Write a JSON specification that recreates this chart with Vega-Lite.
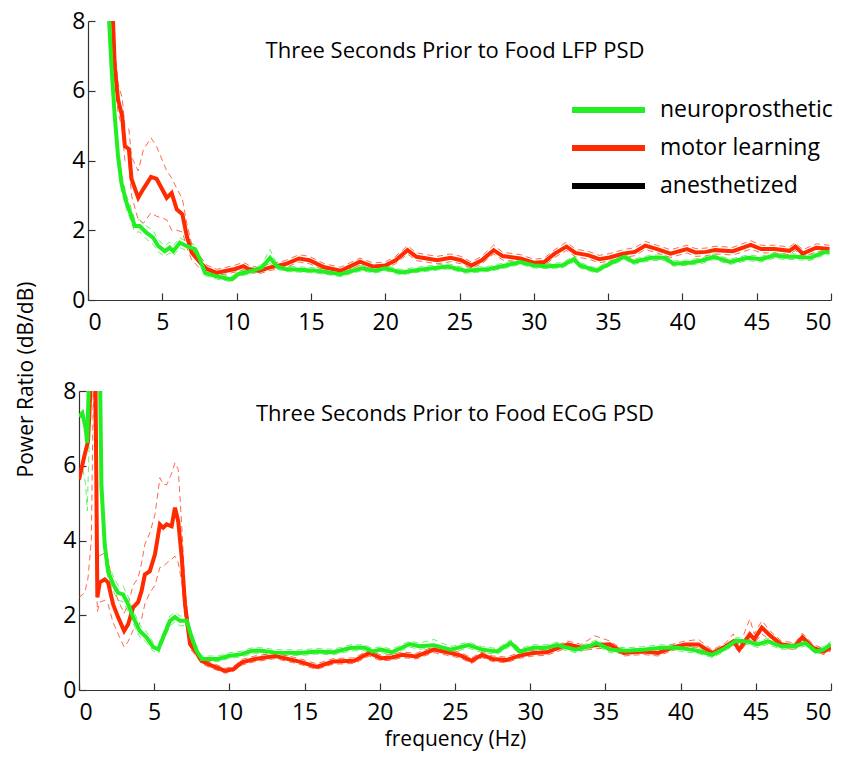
{
"$schema": "https://vega.github.io/schema/vega-lite/v6.json",
"background": "white",
"padding": {"left": 15, "top": 10, "right": 6, "bottom": 5},
"title": {"text": "Power Ratio (dB/dB)", "orient": "left", "anchor": "middle", "fontSize": 21, "fontWeight": "normal", "font": "Open Sans", "color": "black", "offset": 26},
"config": {
  "view": {"stroke": null},
  "font": "Open Sans",
  "axis": {"grid": false, "domainColor": "#333333", "domainWidth": 1.2, "tickColor": "#333333", "tickWidth": 1.2, "tickSize": -7, "labelFontSize": 23, "labelFont": "Open Sans", "labelColor": "black", "titleFontSize": 21, "titleFont": "Open Sans", "titleFontWeight": "normal", "titleColor": "black"}
},
"resolve": {"scale": {"stroke": "independent"}},
"spacing": 46,
"datasets": {
"lfp": [
{"s":"motor learning","f":1.55,"m":9.5,"lo":9.0,"hi":10.0},
{"s":"motor learning","f":1.8,"m":6.7,"lo":6.3,"hi":7.2},
{"s":"motor learning","f":2.02,"m":5.75,"lo":5.4,"hi":6.2},
{"s":"motor learning","f":2.3,"m":5.27,"lo":4.9,"hi":5.8},
{"s":"motor learning","f":2.48,"m":4.41,"lo":4.0,"hi":5.0},
{"s":"motor learning","f":2.75,"m":4.33,"lo":3.9,"hi":4.9},
{"s":"motor learning","f":2.93,"m":3.47,"lo":3.0,"hi":4.1},
{"s":"motor learning","f":3.38,"m":2.93,"lo":2.3,"hi":3.7},
{"s":"motor learning","f":3.72,"m":3.18,"lo":2.2,"hi":4.3},
{"s":"motor learning","f":4.24,"m":3.53,"lo":2.5,"hi":4.65},
{"s":"motor learning","f":4.62,"m":3.47,"lo":2.4,"hi":4.4},
{"s":"motor learning","f":5.3,"m":2.93,"lo":2.3,"hi":3.7},
{"s":"motor learning","f":5.63,"m":3.07,"lo":2.0,"hi":3.5},
{"s":"motor learning","f":5.97,"m":2.6,"lo":2.0,"hi":3.2},
{"s":"motor learning","f":6.35,"m":2.46,"lo":1.95,"hi":2.9},
{"s":"motor learning","f":6.65,"m":1.83,"lo":1.5,"hi":2.2},
{"s":"motor learning","f":6.98,"m":1.36,"lo":1.15,"hi":1.6},
{"s":"motor learning","f":7.55,"m":1.07,"lo":0.9,"hi":1.25},
{"s":"motor learning","f":8.0,"m":0.89,"lo":0.8,"hi":1.0},
{"s":"motor learning","f":8.67,"m":0.78,"lo":0.7,"hi":0.88},
{"s":"motor learning","f":9.23,"m":0.83,"lo":0.74,"hi":0.93},
{"s":"motor learning","f":9.9,"m":0.89,"lo":0.8,"hi":1.0},
{"s":"motor learning","f":10.46,"m":0.97,"lo":0.87,"hi":1.08},
{"s":"motor learning","f":10.8,"m":0.89,"lo":0.8,"hi":1.0},
{"s":"motor learning","f":11.5,"m":0.83,"lo":0.75,"hi":0.93},
{"s":"motor learning","f":12.2,"m":0.93,"lo":0.84,"hi":1.03},
{"s":"motor learning","f":13.3,"m":1.03,"lo":0.93,"hi":1.13},
{"s":"motor learning","f":14.2,"m":1.19,"lo":1.09,"hi":1.3},
{"s":"motor learning","f":14.9,"m":1.14,"lo":1.04,"hi":1.25},
{"s":"motor learning","f":15.9,"m":0.94,"lo":0.85,"hi":1.04},
{"s":"motor learning","f":17.0,"m":0.84,"lo":0.75,"hi":0.94},
{"s":"motor learning","f":18.3,"m":1.1,"lo":1.0,"hi":1.2},
{"s":"motor learning","f":19.2,"m":0.96,"lo":0.87,"hi":1.06},
{"s":"motor learning","f":20.0,"m":0.99,"lo":0.9,"hi":1.09},
{"s":"motor learning","f":20.7,"m":1.14,"lo":1.04,"hi":1.25},
{"s":"motor learning","f":21.5,"m":1.43,"lo":1.32,"hi":1.56},
{"s":"motor learning","f":22.1,"m":1.24,"lo":1.13,"hi":1.35},
{"s":"motor learning","f":23.5,"m":1.14,"lo":1.04,"hi":1.25},
{"s":"motor learning","f":24.4,"m":1.21,"lo":1.1,"hi":1.32},
{"s":"motor learning","f":25.1,"m":1.14,"lo":1.04,"hi":1.25},
{"s":"motor learning","f":25.8,"m":0.99,"lo":0.9,"hi":1.09},
{"s":"motor learning","f":26.5,"m":1.14,"lo":1.04,"hi":1.25},
{"s":"motor learning","f":27.3,"m":1.43,"lo":1.32,"hi":1.58},
{"s":"motor learning","f":27.9,"m":1.26,"lo":1.15,"hi":1.37},
{"s":"motor learning","f":29.1,"m":1.19,"lo":1.09,"hi":1.3},
{"s":"motor learning","f":30.0,"m":1.07,"lo":0.97,"hi":1.17},
{"s":"motor learning","f":30.7,"m":1.09,"lo":0.99,"hi":1.2},
{"s":"motor learning","f":31.4,"m":1.33,"lo":1.22,"hi":1.44},
{"s":"motor learning","f":32.2,"m":1.53,"lo":1.42,"hi":1.66},
{"s":"motor learning","f":32.8,"m":1.35,"lo":1.24,"hi":1.46},
{"s":"motor learning","f":33.7,"m":1.28,"lo":1.17,"hi":1.39},
{"s":"motor learning","f":34.4,"m":1.17,"lo":1.07,"hi":1.28},
{"s":"motor learning","f":35.1,"m":1.22,"lo":1.11,"hi":1.33},
{"s":"motor learning","f":36.0,"m":1.33,"lo":1.22,"hi":1.44},
{"s":"motor learning","f":36.8,"m":1.38,"lo":1.27,"hi":1.5},
{"s":"motor learning","f":37.5,"m":1.56,"lo":1.45,"hi":1.68},
{"s":"motor learning","f":38.3,"m":1.46,"lo":1.35,"hi":1.57},
{"s":"motor learning","f":39.2,"m":1.33,"lo":1.22,"hi":1.44},
{"s":"motor learning","f":40.3,"m":1.46,"lo":1.35,"hi":1.57},
{"s":"motor learning","f":40.9,"m":1.36,"lo":1.25,"hi":1.47},
{"s":"motor learning","f":41.6,"m":1.38,"lo":1.27,"hi":1.49},
{"s":"motor learning","f":42.2,"m":1.43,"lo":1.32,"hi":1.54},
{"s":"motor learning","f":43.4,"m":1.4,"lo":1.29,"hi":1.51},
{"s":"motor learning","f":44.6,"m":1.58,"lo":1.46,"hi":1.7},
{"s":"motor learning","f":45.3,"m":1.46,"lo":1.35,"hi":1.57},
{"s":"motor learning","f":46.2,"m":1.46,"lo":1.35,"hi":1.57},
{"s":"motor learning","f":47.2,"m":1.41,"lo":1.3,"hi":1.52},
{"s":"motor learning","f":47.6,"m":1.53,"lo":1.42,"hi":1.64},
{"s":"motor learning","f":48.1,"m":1.33,"lo":1.22,"hi":1.44},
{"s":"motor learning","f":49.0,"m":1.5,"lo":1.39,"hi":1.61},
{"s":"motor learning","f":49.9,"m":1.46,"lo":1.35,"hi":1.57},
{"s":"neuroprosthetic","f":1.3,"m":9.0,"lo":8.7,"hi":9.3},
{"s":"neuroprosthetic","f":1.58,"m":6.7,"lo":6.4,"hi":7.0},
{"s":"neuroprosthetic","f":1.8,"m":5.27,"lo":5.0,"hi":5.55},
{"s":"neuroprosthetic","f":2.02,"m":4.13,"lo":3.9,"hi":4.4},
{"s":"neuroprosthetic","f":2.25,"m":3.36,"lo":3.15,"hi":3.6},
{"s":"neuroprosthetic","f":2.59,"m":2.79,"lo":2.6,"hi":3.0},
{"s":"neuroprosthetic","f":2.92,"m":2.41,"lo":2.22,"hi":2.62},
{"s":"neuroprosthetic","f":3.15,"m":2.12,"lo":1.95,"hi":2.3},
{"s":"neuroprosthetic","f":3.48,"m":2.12,"lo":1.95,"hi":2.3},
{"s":"neuroprosthetic","f":3.93,"m":1.93,"lo":1.75,"hi":2.12},
{"s":"neuroprosthetic","f":4.38,"m":1.79,"lo":1.6,"hi":2.0},
{"s":"neuroprosthetic","f":4.72,"m":1.55,"lo":1.38,"hi":1.72},
{"s":"neuroprosthetic","f":5.17,"m":1.4,"lo":1.25,"hi":1.56},
{"s":"neuroprosthetic","f":5.5,"m":1.5,"lo":1.35,"hi":1.66},
{"s":"neuroprosthetic","f":5.73,"m":1.4,"lo":1.26,"hi":1.55},
{"s":"neuroprosthetic","f":6.18,"m":1.64,"lo":1.5,"hi":1.78},
{"s":"neuroprosthetic","f":6.63,"m":1.55,"lo":1.42,"hi":1.68},
{"s":"neuroprosthetic","f":7.19,"m":1.46,"lo":1.34,"hi":1.58},
{"s":"neuroprosthetic","f":7.53,"m":1.17,"lo":1.06,"hi":1.28},
{"s":"neuroprosthetic","f":7.87,"m":0.78,"lo":0.7,"hi":0.87},
{"s":"neuroprosthetic","f":8.54,"m":0.69,"lo":0.61,"hi":0.77},
{"s":"neuroprosthetic","f":9.1,"m":0.64,"lo":0.57,"hi":0.72},
{"s":"neuroprosthetic","f":9.67,"m":0.59,"lo":0.52,"hi":0.67},
{"s":"neuroprosthetic","f":10.1,"m":0.74,"lo":0.67,"hi":0.82},
{"s":"neuroprosthetic","f":11.0,"m":0.83,"lo":0.76,"hi":0.91},
{"s":"neuroprosthetic","f":11.7,"m":0.93,"lo":0.85,"hi":1.02},
{"s":"neuroprosthetic","f":12.25,"m":1.21,"lo":1.05,"hi":1.45},
{"s":"neuroprosthetic","f":12.7,"m":0.97,"lo":0.89,"hi":1.05},
{"s":"neuroprosthetic","f":13.25,"m":0.89,"lo":0.82,"hi":0.97},
{"s":"neuroprosthetic","f":14.2,"m":0.87,"lo":0.8,"hi":0.95},
{"s":"neuroprosthetic","f":15.4,"m":0.84,"lo":0.77,"hi":0.92},
{"s":"neuroprosthetic","f":17.0,"m":0.74,"lo":0.67,"hi":0.82},
{"s":"neuroprosthetic","f":18.4,"m":0.91,"lo":0.84,"hi":0.99},
{"s":"neuroprosthetic","f":19.3,"m":0.84,"lo":0.77,"hi":0.92},
{"s":"neuroprosthetic","f":20.0,"m":0.91,"lo":0.84,"hi":0.99},
{"s":"neuroprosthetic","f":21.1,"m":0.79,"lo":0.72,"hi":0.87},
{"s":"neuroprosthetic","f":22.3,"m":0.87,"lo":0.8,"hi":0.95},
{"s":"neuroprosthetic","f":24.2,"m":0.96,"lo":0.89,"hi":1.04},
{"s":"neuroprosthetic","f":25.4,"m":0.84,"lo":0.77,"hi":0.92},
{"s":"neuroprosthetic","f":27.0,"m":0.89,"lo":0.82,"hi":0.97},
{"s":"neuroprosthetic","f":28.1,"m":0.99,"lo":0.92,"hi":1.07},
{"s":"neuroprosthetic","f":29.1,"m":1.09,"lo":1.02,"hi":1.17},
{"s":"neuroprosthetic","f":30.0,"m":0.99,"lo":0.92,"hi":1.07},
{"s":"neuroprosthetic","f":30.9,"m":0.97,"lo":0.9,"hi":1.05},
{"s":"neuroprosthetic","f":31.9,"m":0.99,"lo":0.92,"hi":1.07},
{"s":"neuroprosthetic","f":32.7,"m":1.17,"lo":1.09,"hi":1.26},
{"s":"neuroprosthetic","f":33.1,"m":0.99,"lo":0.92,"hi":1.07},
{"s":"neuroprosthetic","f":34.2,"m":0.84,"lo":0.77,"hi":0.92},
{"s":"neuroprosthetic","f":35.1,"m":1.04,"lo":0.97,"hi":1.12},
{"s":"neuroprosthetic","f":36.1,"m":1.24,"lo":1.16,"hi":1.32},
{"s":"neuroprosthetic","f":36.7,"m":1.09,"lo":1.02,"hi":1.17},
{"s":"neuroprosthetic","f":37.9,"m":1.21,"lo":1.13,"hi":1.29},
{"s":"neuroprosthetic","f":38.8,"m":1.21,"lo":1.13,"hi":1.29},
{"s":"neuroprosthetic","f":39.4,"m":1.04,"lo":0.97,"hi":1.12},
{"s":"neuroprosthetic","f":40.5,"m":1.07,"lo":1.0,"hi":1.15},
{"s":"neuroprosthetic","f":41.4,"m":1.14,"lo":1.06,"hi":1.22},
{"s":"neuroprosthetic","f":42.1,"m":1.24,"lo":1.16,"hi":1.32},
{"s":"neuroprosthetic","f":43.2,"m":1.09,"lo":1.02,"hi":1.17},
{"s":"neuroprosthetic","f":44.4,"m":1.21,"lo":1.13,"hi":1.29},
{"s":"neuroprosthetic","f":45.3,"m":1.17,"lo":1.09,"hi":1.25},
{"s":"neuroprosthetic","f":46.2,"m":1.28,"lo":1.2,"hi":1.36},
{"s":"neuroprosthetic","f":46.9,"m":1.24,"lo":1.16,"hi":1.32},
{"s":"neuroprosthetic","f":47.6,"m":1.24,"lo":1.16,"hi":1.32},
{"s":"neuroprosthetic","f":48.6,"m":1.21,"lo":1.13,"hi":1.29},
{"s":"neuroprosthetic","f":49.5,"m":1.36,"lo":1.28,"hi":1.44},
{"s":"neuroprosthetic","f":49.9,"m":1.38,"lo":1.3,"hi":1.46}
],
"ecog": [
{"s":"motor learning","f":0.0,"m":5.63,"lo":2.48,"hi":9.0},
{"s":"motor learning","f":0.38,"m":6.3,"lo":2.6,"hi":9.2},
{"s":"motor learning","f":0.6,"m":6.65,"lo":3.0,"hi":9.5},
{"s":"motor learning","f":0.82,"m":8.5,"lo":4.0,"hi":11.0},
{"s":"motor learning","f":0.95,"m":12.0,"lo":8.0,"hi":14.0},
{"s":"motor learning","f":1.08,"m":9.0,"lo":6.0,"hi":11.0},
{"s":"motor learning","f":1.22,"m":2.48,"lo":2.1,"hi":3.3},
{"s":"motor learning","f":1.38,"m":2.88,"lo":2.35,"hi":3.6},
{"s":"motor learning","f":1.71,"m":2.96,"lo":2.4,"hi":3.66},
{"s":"motor learning","f":1.93,"m":2.88,"lo":2.3,"hi":3.5},
{"s":"motor learning","f":2.27,"m":2.29,"lo":1.8,"hi":2.8},
{"s":"motor learning","f":2.6,"m":1.95,"lo":1.5,"hi":2.4},
{"s":"motor learning","f":3.0,"m":1.58,"lo":1.15,"hi":2.05},
{"s":"motor learning","f":3.27,"m":1.76,"lo":1.3,"hi":2.3},
{"s":"motor learning","f":3.6,"m":2.21,"lo":1.6,"hi":2.8},
{"s":"motor learning","f":3.93,"m":2.35,"lo":1.7,"hi":3.0},
{"s":"motor learning","f":4.16,"m":2.65,"lo":1.9,"hi":3.4},
{"s":"motor learning","f":4.38,"m":3.09,"lo":2.3,"hi":3.9},
{"s":"motor learning","f":4.71,"m":3.18,"lo":2.6,"hi":4.2},
{"s":"motor learning","f":5.05,"m":3.63,"lo":2.8,"hi":4.69},
{"s":"motor learning","f":5.38,"m":4.43,"lo":3.28,"hi":5.68},
{"s":"motor learning","f":5.6,"m":4.34,"lo":3.3,"hi":5.5},
{"s":"motor learning","f":5.83,"m":4.43,"lo":3.4,"hi":5.49},
{"s":"motor learning","f":6.16,"m":4.38,"lo":3.5,"hi":5.8},
{"s":"motor learning","f":6.38,"m":4.88,"lo":3.58,"hi":6.08},
{"s":"motor learning","f":6.6,"m":4.51,"lo":3.4,"hi":5.9},
{"s":"motor learning","f":6.83,"m":3.55,"lo":2.9,"hi":4.4},
{"s":"motor learning","f":7.05,"m":2.29,"lo":1.9,"hi":2.7},
{"s":"motor learning","f":7.38,"m":1.23,"lo":1.1,"hi":1.4},
{"s":"motor learning","f":7.71,"m":1.05,"lo":0.95,"hi":1.17},
{"s":"motor learning","f":8.16,"m":0.78,"lo":0.7,"hi":0.87},
{"s":"motor learning","f":8.83,"m":0.65,"lo":0.58,"hi":0.73},
{"s":"motor learning","f":9.71,"m":0.51,"lo":0.45,"hi":0.58},
{"s":"motor learning","f":10.27,"m":0.56,"lo":0.5,"hi":0.63},
{"s":"motor learning","f":10.83,"m":0.74,"lo":0.67,"hi":0.82},
{"s":"motor learning","f":11.7,"m":0.83,"lo":0.76,"hi":0.91},
{"s":"motor learning","f":13.05,"m":0.91,"lo":0.84,"hi":0.99},
{"s":"motor learning","f":14.66,"m":0.76,"lo":0.69,"hi":0.84},
{"s":"motor learning","f":15.8,"m":0.62,"lo":0.55,"hi":0.7},
{"s":"motor learning","f":16.9,"m":0.76,"lo":0.69,"hi":0.84},
{"s":"motor learning","f":18.3,"m":0.78,"lo":0.71,"hi":0.86},
{"s":"motor learning","f":19.3,"m":0.99,"lo":0.91,"hi":1.07},
{"s":"motor learning","f":20.1,"m":0.85,"lo":0.78,"hi":0.93},
{"s":"motor learning","f":20.8,"m":0.87,"lo":0.8,"hi":0.95},
{"s":"motor learning","f":21.5,"m":0.94,"lo":0.87,"hi":1.02},
{"s":"motor learning","f":22.4,"m":0.9,"lo":0.83,"hi":0.98},
{"s":"motor learning","f":23.6,"m":1.08,"lo":1.0,"hi":1.16},
{"s":"motor learning","f":24.7,"m":0.99,"lo":0.91,"hi":1.07},
{"s":"motor learning","f":25.4,"m":0.92,"lo":0.85,"hi":1.0},
{"s":"motor learning","f":26.1,"m":0.78,"lo":0.71,"hi":0.86},
{"s":"motor learning","f":26.8,"m":0.94,"lo":0.87,"hi":1.02},
{"s":"motor learning","f":27.5,"m":0.83,"lo":0.76,"hi":0.91},
{"s":"motor learning","f":28.4,"m":0.8,"lo":0.73,"hi":0.88},
{"s":"motor learning","f":29.3,"m":0.92,"lo":0.85,"hi":1.0},
{"s":"motor learning","f":30.2,"m":0.99,"lo":0.91,"hi":1.07},
{"s":"motor learning","f":31.1,"m":1.01,"lo":0.93,"hi":1.09},
{"s":"motor learning","f":32.5,"m":1.22,"lo":1.13,"hi":1.31},
{"s":"motor learning","f":33.4,"m":1.13,"lo":1.05,"hi":1.22},
{"s":"motor learning","f":34.3,"m":1.2,"lo":1.1,"hi":1.45},
{"s":"motor learning","f":35.3,"m":1.22,"lo":1.13,"hi":1.31},
{"s":"motor learning","f":36.2,"m":0.99,"lo":0.91,"hi":1.07},
{"s":"motor learning","f":37.5,"m":1.03,"lo":0.95,"hi":1.11},
{"s":"motor learning","f":38.5,"m":0.99,"lo":0.91,"hi":1.07},
{"s":"motor learning","f":39.4,"m":1.13,"lo":1.05,"hi":1.22},
{"s":"motor learning","f":40.3,"m":1.22,"lo":1.13,"hi":1.31},
{"s":"motor learning","f":41.2,"m":1.22,"lo":1.13,"hi":1.35},
{"s":"motor learning","f":42.1,"m":0.99,"lo":0.91,"hi":1.07},
{"s":"motor learning","f":43.0,"m":1.17,"lo":1.08,"hi":1.26},
{"s":"motor learning","f":43.5,"m":1.3,"lo":1.2,"hi":1.5},
{"s":"motor learning","f":43.9,"m":1.08,"lo":1.0,"hi":1.17},
{"s":"motor learning","f":44.6,"m":1.49,"lo":1.35,"hi":1.9},
{"s":"motor learning","f":44.9,"m":1.36,"lo":1.25,"hi":1.5},
{"s":"motor learning","f":45.4,"m":1.67,"lo":1.5,"hi":1.85},
{"s":"motor learning","f":46.0,"m":1.44,"lo":1.32,"hi":1.56},
{"s":"motor learning","f":46.7,"m":1.22,"lo":1.13,"hi":1.31},
{"s":"motor learning","f":47.6,"m":1.17,"lo":1.08,"hi":1.26},
{"s":"motor learning","f":48.1,"m":1.41,"lo":1.3,"hi":1.52},
{"s":"motor learning","f":48.8,"m":1.13,"lo":1.05,"hi":1.22},
{"s":"motor learning","f":49.5,"m":1.03,"lo":0.95,"hi":1.11},
{"s":"motor learning","f":50.0,"m":1.13,"lo":1.05,"hi":1.22},
{"s":"neuroprosthetic","f":0.0,"m":7.31,"lo":5.85,"hi":8.6},
{"s":"neuroprosthetic","f":0.22,"m":7.41,"lo":6.0,"hi":8.7},
{"s":"neuroprosthetic","f":0.44,"m":7.0,"lo":5.5,"hi":8.5},
{"s":"neuroprosthetic","f":0.55,"m":6.61,"lo":4.8,"hi":8.4},
{"s":"neuroprosthetic","f":0.67,"m":8.5,"lo":6.5,"hi":10.0},
{"s":"neuroprosthetic","f":0.8,"m":12.0,"lo":10.0,"hi":14.0},
{"s":"neuroprosthetic","f":1.3,"m":12.0,"lo":10.0,"hi":14.0},
{"s":"neuroprosthetic","f":1.38,"m":9.0,"lo":8.5,"hi":9.5},
{"s":"neuroprosthetic","f":1.49,"m":5.49,"lo":5.2,"hi":5.8},
{"s":"neuroprosthetic","f":1.71,"m":3.89,"lo":3.65,"hi":4.15},
{"s":"neuroprosthetic","f":1.93,"m":3.18,"lo":2.98,"hi":3.4},
{"s":"neuroprosthetic","f":2.27,"m":2.83,"lo":2.65,"hi":3.05},
{"s":"neuroprosthetic","f":2.6,"m":2.6,"lo":2.4,"hi":2.8},
{"s":"neuroprosthetic","f":2.93,"m":2.56,"lo":2.36,"hi":2.78},
{"s":"neuroprosthetic","f":3.27,"m":2.29,"lo":2.1,"hi":2.5},
{"s":"neuroprosthetic","f":3.6,"m":1.95,"lo":1.78,"hi":2.13},
{"s":"neuroprosthetic","f":4.04,"m":1.58,"lo":1.42,"hi":1.75},
{"s":"neuroprosthetic","f":4.49,"m":1.41,"lo":1.27,"hi":1.56},
{"s":"neuroprosthetic","f":4.93,"m":1.15,"lo":1.04,"hi":1.27},
{"s":"neuroprosthetic","f":5.27,"m":1.09,"lo":0.98,"hi":1.2},
{"s":"neuroprosthetic","f":5.6,"m":1.41,"lo":1.3,"hi":1.53},
{"s":"neuroprosthetic","f":6.05,"m":1.85,"lo":1.72,"hi":1.98},
{"s":"neuroprosthetic","f":6.38,"m":1.95,"lo":1.82,"hi":2.08},
{"s":"neuroprosthetic","f":6.71,"m":1.85,"lo":1.72,"hi":1.98},
{"s":"neuroprosthetic","f":7.16,"m":1.85,"lo":1.72,"hi":1.98},
{"s":"neuroprosthetic","f":7.49,"m":1.41,"lo":1.3,"hi":1.53},
{"s":"neuroprosthetic","f":7.82,"m":1.05,"lo":0.96,"hi":1.15},
{"s":"neuroprosthetic","f":8.16,"m":0.83,"lo":0.76,"hi":0.91},
{"s":"neuroprosthetic","f":8.6,"m":0.83,"lo":0.76,"hi":0.91},
{"s":"neuroprosthetic","f":9.27,"m":0.83,"lo":0.76,"hi":0.91},
{"s":"neuroprosthetic","f":9.93,"m":0.91,"lo":0.84,"hi":0.99},
{"s":"neuroprosthetic","f":10.83,"m":0.96,"lo":0.89,"hi":1.04},
{"s":"neuroprosthetic","f":11.5,"m":1.05,"lo":0.97,"hi":1.13},
{"s":"neuroprosthetic","f":12.16,"m":1.05,"lo":0.97,"hi":1.13},
{"s":"neuroprosthetic","f":13.05,"m":1.0,"lo":0.93,"hi":1.08},
{"s":"neuroprosthetic","f":14.66,"m":0.99,"lo":0.92,"hi":1.07},
{"s":"neuroprosthetic","f":15.8,"m":1.03,"lo":0.96,"hi":1.11},
{"s":"neuroprosthetic","f":16.9,"m":1.01,"lo":0.94,"hi":1.09},
{"s":"neuroprosthetic","f":18.1,"m":1.13,"lo":1.05,"hi":1.21},
{"s":"neuroprosthetic","f":19.0,"m":1.13,"lo":1.05,"hi":1.21},
{"s":"neuroprosthetic","f":19.5,"m":1.03,"lo":0.96,"hi":1.11},
{"s":"neuroprosthetic","f":20.1,"m":1.08,"lo":1.0,"hi":1.16},
{"s":"neuroprosthetic","f":20.8,"m":1.01,"lo":0.94,"hi":1.09},
{"s":"neuroprosthetic","f":22.0,"m":1.23,"lo":1.15,"hi":1.31},
{"s":"neuroprosthetic","f":22.6,"m":1.17,"lo":1.09,"hi":1.25},
{"s":"neuroprosthetic","f":23.6,"m":1.2,"lo":1.12,"hi":1.35},
{"s":"neuroprosthetic","f":24.7,"m":1.08,"lo":1.0,"hi":1.16},
{"s":"neuroprosthetic","f":25.9,"m":1.2,"lo":1.12,"hi":1.28},
{"s":"neuroprosthetic","f":26.8,"m":1.08,"lo":1.0,"hi":1.16},
{"s":"neuroprosthetic","f":27.8,"m":1.03,"lo":0.96,"hi":1.11},
{"s":"neuroprosthetic","f":28.7,"m":1.26,"lo":1.18,"hi":1.34},
{"s":"neuroprosthetic","f":29.3,"m":1.03,"lo":0.96,"hi":1.11},
{"s":"neuroprosthetic","f":30.2,"m":1.13,"lo":1.05,"hi":1.21},
{"s":"neuroprosthetic","f":31.1,"m":1.13,"lo":1.05,"hi":1.21},
{"s":"neuroprosthetic","f":31.8,"m":1.2,"lo":1.12,"hi":1.28},
{"s":"neuroprosthetic","f":33.0,"m":1.08,"lo":1.0,"hi":1.16},
{"s":"neuroprosthetic","f":33.9,"m":1.17,"lo":1.09,"hi":1.25},
{"s":"neuroprosthetic","f":34.4,"m":1.26,"lo":1.18,"hi":1.34},
{"s":"neuroprosthetic","f":35.3,"m":1.08,"lo":1.0,"hi":1.16},
{"s":"neuroprosthetic","f":36.4,"m":1.05,"lo":0.97,"hi":1.13},
{"s":"neuroprosthetic","f":37.5,"m":1.08,"lo":1.0,"hi":1.16},
{"s":"neuroprosthetic","f":38.7,"m":1.13,"lo":1.05,"hi":1.21},
{"s":"neuroprosthetic","f":39.8,"m":1.13,"lo":1.05,"hi":1.21},
{"s":"neuroprosthetic","f":40.7,"m":1.08,"lo":1.0,"hi":1.16},
{"s":"neuroprosthetic","f":41.3,"m":1.03,"lo":0.96,"hi":1.11},
{"s":"neuroprosthetic","f":42.1,"m":0.94,"lo":0.87,"hi":1.02},
{"s":"neuroprosthetic","f":42.8,"m":1.08,"lo":1.0,"hi":1.16},
{"s":"neuroprosthetic","f":43.7,"m":1.32,"lo":1.24,"hi":1.4},
{"s":"neuroprosthetic","f":44.4,"m":1.3,"lo":1.22,"hi":1.38},
{"s":"neuroprosthetic","f":45.1,"m":1.22,"lo":1.14,"hi":1.3},
{"s":"neuroprosthetic","f":45.8,"m":1.3,"lo":1.22,"hi":1.38},
{"s":"neuroprosthetic","f":46.7,"m":1.17,"lo":1.09,"hi":1.25},
{"s":"neuroprosthetic","f":47.6,"m":1.17,"lo":1.09,"hi":1.25},
{"s":"neuroprosthetic","f":48.3,"m":1.26,"lo":1.18,"hi":1.34},
{"s":"neuroprosthetic","f":49.0,"m":1.03,"lo":0.96,"hi":1.11},
{"s":"neuroprosthetic","f":49.5,"m":1.08,"lo":1.0,"hi":1.16},
{"s":"neuroprosthetic","f":50.0,"m":1.22,"lo":1.14,"hi":1.3}
]
},
"vconcat": [
{
  "width": 752, "height": 279,
  "title": {"text": "Three Seconds Prior to Food LFP PSD", "anchor": "middle", "offset": -53, "fontSize": 22, "fontWeight": "normal", "font": "Open Sans", "color": "black"},
  "data": {"name": "lfp"},
  "encoding": {
    "x": {"field": "f", "type": "quantitative", "scale": {"domain": [0, 50], "nice": false, "range": [9, 752]}, "axis": {"title": null, "values": [0,5,10,15,20,25,30,35,40,45,50], "labelPadding": 18}},
    "stroke": {"field": "s", "type": "nominal", "scale": {"domain": ["neuroprosthetic", "motor learning", "anesthetized"], "range": ["#22ee22", "#ff2a00", "#000000"]},
      "legend": {"orient": "none", "legendX": 490, "legendY": 73, "title": null, "symbolType": "stroke", "symbolSize": 5329, "symbolStrokeWidth": 6, "symbolDash": [1, 0], "symbolOpacity": 1, "labelFontSize": 23, "labelFont": "Open Sans", "labelColor": "black", "labelOffset": 12, "labelLimit": 400, "clipHeight": 32, "rowPadding": 6}}
  },
  "layer": [
    {"mark": {"type": "line", "strokeWidth": 1, "strokeDash": [6, 4], "opacity": 0.7, "clip": true},
     "encoding": {"y": {"field": "lo", "type": "quantitative", "scale": {"domain": [0, 8], "nice": false}, "axis": {"title": null, "offset": -9, "values": [0,2,4,6,8], "labelPadding": 10}}}},
    {"mark": {"type": "line", "strokeWidth": 1, "strokeDash": [6, 4], "opacity": 0.7, "clip": true},
     "encoding": {"y": {"field": "hi", "type": "quantitative"}}},
    {"mark": {"type": "line", "strokeWidth": 4, "clip": true},
     "encoding": {"y": {"field": "m", "type": "quantitative"}}}
  ]
},
{
  "width": 752, "height": 299,
  "title": {"text": "Three Seconds Prior to Food ECoG PSD", "anchor": "middle", "offset": -46, "fontSize": 22, "fontWeight": "normal", "font": "Open Sans", "color": "black"},
  "data": {"name": "ecog"},
  "encoding": {
    "x": {"field": "f", "type": "quantitative", "scale": {"domain": [0, 50], "nice": false}, "axis": {"title": "frequency (Hz)", "values": [0,5,10,15,20,25,30,35,40,45,50], "labelPadding": 18, "titlePadding": 4}},
    "stroke": {"field": "s", "type": "nominal", "scale": {"domain": ["neuroprosthetic", "motor learning", "anesthetized"], "range": ["#22ee22", "#ff2a00", "#000000"]}, "legend": null}
  },
  "layer": [
    {"mark": {"type": "line", "strokeWidth": 1, "strokeDash": [6, 4], "opacity": 0.7, "clip": true},
     "encoding": {"y": {"field": "lo", "type": "quantitative", "scale": {"domain": [0, 8], "nice": false}, "axis": {"title": null, "values": [0,2,4,6,8], "labelPadding": 10}}}},
    {"mark": {"type": "line", "strokeWidth": 1, "strokeDash": [6, 4], "opacity": 0.7, "clip": true},
     "encoding": {"y": {"field": "hi", "type": "quantitative"}}},
    {"mark": {"type": "line", "strokeWidth": 4, "clip": true},
     "encoding": {"y": {"field": "m", "type": "quantitative"}}}
  ]
}
]
}
